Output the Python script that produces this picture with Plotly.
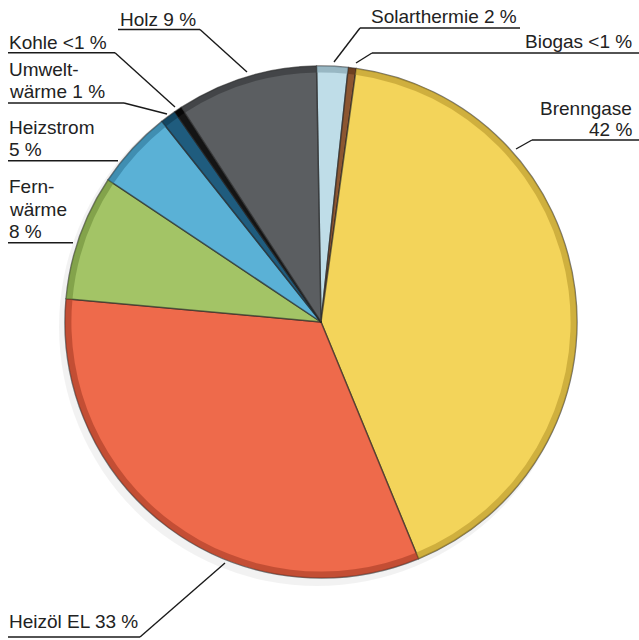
import plotly.graph_objects as go

# Energy sources, clockwise from 12 o'clock
labels = ["Solarthermie", "Biogas", "Brenngase", "Heizöl EL", "Fernwärme",
          "Heizstrom", "Umweltwärme", "Kohle", "Holz"]
values = [2, 0.5, 42, 33, 8, 5, 1, 0.5, 9]
colors = ["#BFDDE8", "#8C5631", "#F3D45A", "#EE6A4B", "#A3C466",
          "#5AB1D6", "#1F5C7E", "#141414", "#5B5E61"]
rim_colors = ["#7F9FAC", "#5A3318", "#B8982C", "#A83C26", "#6E8E3A",
              "#2F7799", "#0E3A52", "#000000", "#343638"]

# Label texts (one entry per line)
label_lines = {
    "Holz": ["Holz 9 %"],
    "Kohle": ["Kohle <1 %"],
    "Umweltwärme": ["Umwelt-", "wärme 1 %"],
    "Heizstrom": ["Heizstrom", "5 %"],
    "Fernwärme": ["Fern-", "wärme", "8 %"],
    "Heizöl EL": ["Heizöl EL 33 %"],
    "Solarthermie": ["Solarthermie 2 %"],
    "Biogas": ["Biogas <1 %"],
    "Brenngase": ["Brenngase", "42 %"],
}

W, H = 639, 640
CX, CY, R = 321, 322, 256


def px(x):
    return x / W


def py(y):
    return 1 - y / H


dom_x = [px(CX - R), px(CX + R)]
dom_y = [py(CY + R), py(CY - R)]

fig = go.Figure()
fig.add_trace(go.Pie(
    labels=labels, values=values, sort=False, direction="clockwise",
    rotation=-1, textinfo="none", hoverinfo="label+percent",
    marker=dict(colors=colors, line=dict(color="rgba(35,35,35,0.6)", width=1.5)),
    domain=dict(x=dom_x, y=dom_y), showlegend=False,
))
# darker rim for a bevelled edge
fig.add_trace(go.Pie(
    labels=labels, values=values, sort=False, direction="clockwise",
    rotation=-1, textinfo="none", hoverinfo="skip", hole=0.975, opacity=0.6,
    marker=dict(colors=rim_colors, line=dict(width=0)),
    domain=dict(x=dom_x, y=dom_y), showlegend=False,
))

# label layout: (anchor x, align, baselines, underline [x0,x1,y], leader end or None)
placements = {
    "Holz": (118, "left", [26], (118, 200, 29.5), (247, 72)),
    "Kohle": (7, "left", [49], (8, 115, 52.7), (175, 107)),
    "Umweltwärme": (7, "left", [76, 98], (8, 124, 103), (167, 114)),
    "Heizstrom": (7, "left", [134, 156], (8, 118, 160.7), None),
    "Fernwärme": (7, "left", [193, 216, 238], (8, 73, 242.7), None),
    "Heizöl EL": (7, "left", [628], (8, 140, 637), (225, 563)),
    "Solarthermie": (519, "right", [23], (520, 360, 28), (334, 62)),
    "Biogas": (634, "right", [48], (639, 372, 53), (356, 63)),
    "Brenngase": (634, "right", [115, 136], (639, 532, 140), (516, 149)),
}

annotations = []
shapes = [dict(type="circle", xref="paper", yref="paper", layer="below",
               x0=px(CX - R - 6), x1=px(CX + R - 2), y0=py(CY + R + 8), y1=py(CY - R + 2),
               fillcolor="rgba(0,0,0,0.05)", line=dict(width=0))]
line_style = dict(color="#1a1a1a", width=1.4)
for name in labels:
    ax, align, baselines, ul, lead = placements[name]
    for text, base in zip(label_lines[name], baselines):
        annotations.append(dict(
            text=text, x=px(ax), y=py(base - 6.8), xref="paper", yref="paper",
            xanchor=align, yanchor="middle", showarrow=False,
            font=dict(family="Liberation Sans, Arial, sans-serif", size=19, color="#222222"),
        ))
    x0, x1, uy = ul
    shapes.append(dict(type="line", xref="paper", yref="paper",
                       x0=px(x0), x1=px(x1), y0=py(uy), y1=py(uy), line=line_style))
    if lead is not None:
        shapes.append(dict(type="line", xref="paper", yref="paper",
                           x0=px(x1), y0=py(uy), x1=px(lead[0]), y1=py(lead[1]),
                           line=line_style))

fig.update_layout(
    width=W, height=H, margin=dict(l=0, r=0, t=0, b=0),
    paper_bgcolor="white", plot_bgcolor="white",
    annotations=annotations, shapes=shapes,
)

fig.write_html("out.html")
